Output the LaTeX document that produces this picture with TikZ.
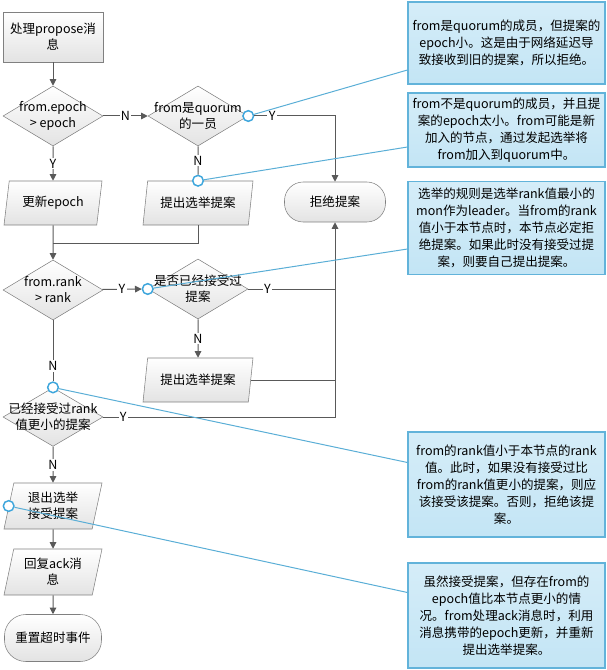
\documentclass[tikz,border=0pt]{standalone}
\usepackage{fontspec}
\setmainfont{Noto Sans CJK SC}
\usetikzlibrary{shapes.geometric,arrows.meta,positioning}

\definecolor{notefill}{HTML}{C3E5F5}
\definecolor{notedraw}{HTML}{62B3DA}
\definecolor{linkblue}{HTML}{5AAED6}
\definecolor{spotblue}{HTML}{3EA6DC}

\begin{document}
\begin{tikzpicture}[x=0.75pt,y=-0.75pt,
    font=\fontsize{9.4}{12}\selectfont,
    shape fill/.style={draw=black!50, top color=white, bottom color=black!11},
    box/.style={shape fill, rectangle, align=center, inner sep=2pt},
    term/.style={shape fill, rectangle, align=center, inner sep=2pt},
    decide/.style={shape fill, diamond, minimum width=75pt, minimum height=45pt,
        inner sep=0pt, label={[align=center]center:#1}},
    io/.style={shape fill, trapezium, trapezium left angle=72, trapezium right angle=108,
        trapezium stretches body, minimum height=33pt, align=center, inner sep=1pt},
    note/.style={draw=notedraw, line width=0.8pt, top color=notefill!70!white,
        bottom color=notefill, minimum width=147.75pt, align=center, inner sep=2pt,
        font=\fontsize{9.4}{12.75}\selectfont},
    spot/.style={circle, draw=spotblue, fill=white, line width=1.1pt,
        minimum size=8pt, inner sep=0pt},
    flow/.style={draw=black!65, line width=0.75pt, -{Triangle[length=5pt,width=5pt]}},
    plain/.style={draw=black!65, line width=0.75pt},
    link/.style={draw=linkblue, line width=0.75pt},
    yn/.style={fill=white, inner sep=1pt}]

\useasboundingbox (0,0) rectangle (606,670);


\node[box, minimum width=75pt, minimum height=37.5pt] (start) at (53,37) {处理propose消\\息};

\node[decide={from.epoch\\> epoch}] (d1) at (53,116) {};
\node[decide={from是quorum\\的一员}] (d2) at (198,116) {};

\node[io, minimum width=73.5pt] (p1) at (53,203) {更新epoch};
\node[io, minimum width=82.5pt] (p2) at (198,203) {提出选举提案};
\node[term, minimum width=75.75pt, minimum height=30pt, rounded corners=14pt] (rej) at (335,202) {拒绝提案};

\coordinate (m1) at (53,243);

\node[decide={from.rank\\> rank}] (d3) at (53,290) {};
\node[decide={是否已经接受过\\提案}] (d4) at (198,289) {};
\node[io, minimum width=82.5pt] (p3) at (198,380) {提出选举提案};

\node[decide={已经接受过rank\\值更小的提案}, minimum height=44pt] (d5) at (53,417) {};
\node[io, minimum width=73.5pt, minimum height=34.5pt] (p4) at (53,506) {退出选举\\接受提案};
\node[io, minimum width=73.5pt, minimum height=34.5pt] (p5) at (53,572) {回复ack消\\息};
\node[term, minimum width=72.75pt, minimum height=35.25pt, rounded corners=16pt] (end) at (53,638) {重置超时事件};


\node[note, minimum height=61.5pt] (n1) at (506.5,43)
    {from是quorum的成员，但提案的\\epoch小。这是由于网络延迟导\\致接收到旧的提案，所以拒绝。};
\node[note, minimum height=55.5pt] (n2) at (506.5,130)
    {from不是quorum的成员，并且提\\案的epoch太小。from可能是新\\加入的节点，通过发起选举将\\from加入到quorum中。};
\node[note, minimum height=69.75pt] (n3) at (506.5,228)
    {选举的规则是选举rank值最小的\\mon作为leader。当from的rank\\值小于本节点时，本节点必定拒\\绝提案。如果此时没有接受过提\\案，则要自己提出提案。};
\node[note, minimum height=78.75pt] (n4) at (506.5,484.5)
    {from的rank值小于本节点的rank\\值。此时，如果没有接受过比\\from的rank值更小的提案，则应\\该接受该提案。否则，拒绝该提\\案。};
\node[note, minimum height=78.75pt] (n5) at (506.5,615.5)
    {虽然接受提案，但存在from的\\epoch值比本节点更小的情\\况。from处理ack消息时，利用\\消息携带的epoch更新，并重新\\提出选举提案。};


\node[spot] (c1) at (d2.east) {};
\node[spot] (c2) at (p2.north) {};
\node[spot] (c3) at (d4.west) {};
\node[spot] (c4) at (d5.north) {};
\node[spot] (c5) at (p4.left side) {};


\draw[flow] (start) -- (d1);
\draw[flow] (d1) -- node[yn]{N} (d2);
\draw[flow] (c1) -| node[yn, pos=0.11]{Y} (rej);
\draw[flow] (d1) -- node[yn]{Y} (p1);
\draw[plain] (d2) -- node[yn]{N} (c2);

\draw[flow] (p1) -- (d3);
\draw[plain] (p2) |- (m1);

\draw[flow] (d3) -- node[yn]{Y} (c3);
\draw[plain] (d4.east) -- node[yn, pos=0.22]{Y} (d4.east -| rej.south);
\draw[flow] (d4) -- node[yn]{N} (p3);
\draw[plain] (p3.right side) -- (p3.right side -| rej.south);

\draw[plain] (d3) -- node[yn, pos=0.75]{N} (c4);
\draw[flow] (d5) -| node[yn, pos=0.043]{Y} (rej);
\draw[flow] (d5) -- node[yn]{N} (p4);
\draw[flow] (p4) -- (p5);
\draw[flow] (p5) -- (end);


\draw[link] (c1) -- ([yshift=-20.25pt]n1.west);
\draw[link] (c2) -- ([yshift=-12.75pt]n2.west);
\draw[link] (c3) -- ([yshift=-15.75pt]n3.west);
\draw[link] (c4) -- ([yshift=16.5pt]n4.west);
\draw[link] (c5) -- ([yshift=17.25pt]n5.west);

\end{tikzpicture}
\end{document}
